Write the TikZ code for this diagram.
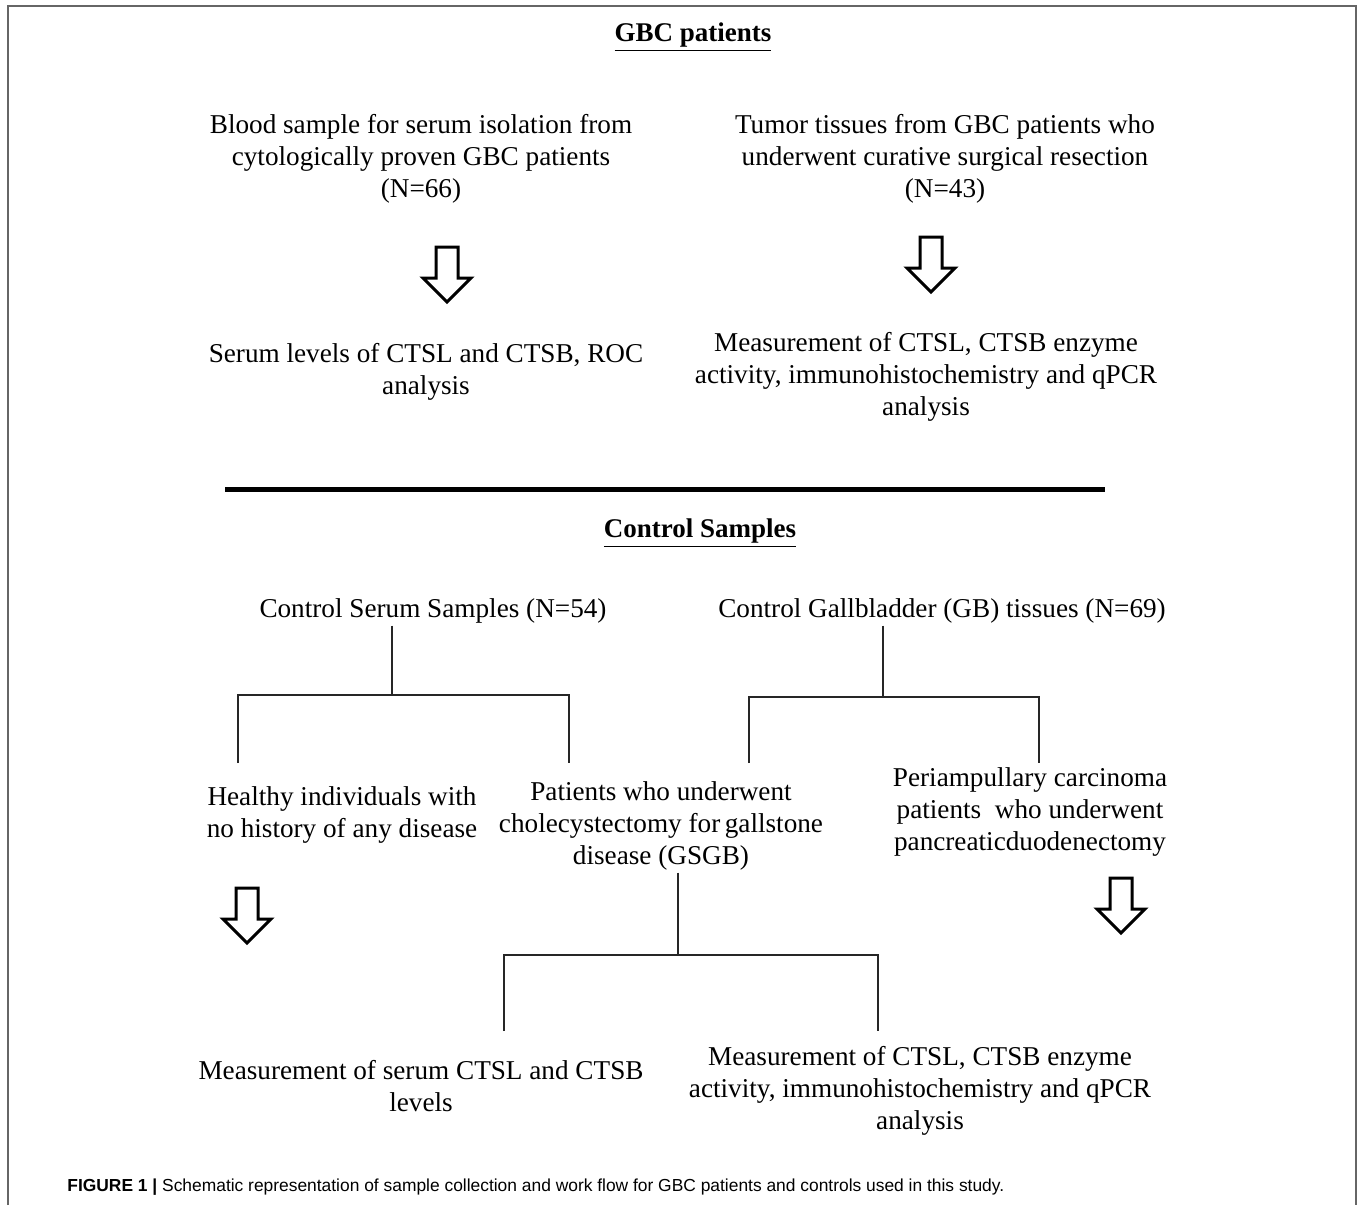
\documentclass[tikz,border=0pt]{standalone}
\usepackage{fontspec}
\setmainfont{Liberation Serif}
\setsansfont{Liberation Sans}
\usetikzlibrary{positioning,calc}

\tikzset{
  txt/.style={align=center, font=\fontsize{13.6}{16}\selectfont, inner sep=1pt},
  head/.style={font=\fontsize{13.5}{16}\selectfont\bfseries, inner sep=1pt},
  link/.style={draw=black!85, line width=0.65pt},
  blockarr/.style={draw=black, line width=1.5pt, line join=miter},
}
% hollow down arrow: top centre at (#1,#2), lengths in px
\newcommand{\hollowarrow}[2]{%
  \draw[blockarr] (#1-11,#2) -- (#1+11,#2) -- (#1+11,#2+31) -- (#1+24,#2+31)
    -- (#1,#2+55) -- (#1-24,#2+31) -- (#1-11,#2+31) -- cycle;}

\begin{document}
\begin{tikzpicture}[x=0.5pt, y=-0.5pt]
  \useasboundingbox (0,0) rectangle (1358,1205);
  % frame
  \draw[black!60, line width=0.8pt] (8,1205) -- (8,6) -- (1356,6) -- (1356,1205);

  % GBC patients
  \node[head] (gbc) at (693,37) {\underline{GBC patients}};
  \node[txt] (blood) at (421,159) {Blood sample for serum isolation from\\cytologically proven GBC patients\\(N=66)};
  \node[txt] (tumor) at (945,159) {Tumor tissues from GBC patients who\\underwent curative surgical resection\\(N=43)};
  \hollowarrow{447}{247}
  \hollowarrow{931}{237}
  \node[txt] (serum) at (426,372) {Serum levels of CTSL and CTSB, ROC\\analysis};
  \node[txt] (enzA) at (926,377) {Measurement of CTSL, CTSB enzyme\\activity, immunohistochemistry and qPCR\\analysis};

  \draw[line width=2.5pt] (225,489) -- (1105,489);

  % Control samples
  \node[head] (ctl) at (700,533) {\underline{Control Samples}};
  \node[txt] (ctlserum) at (433,611) {Control Serum Samples (N=54)};
  \node[txt] (ctlgb) at (942,611) {Control Gallbladder (GB) tissues (N=69)};

  \coordinate (sj) at (392,695);
  \coordinate (sl) at (238,763);
  \coordinate (sr) at (569,763);
  \draw[link] (sj |- ctlserum.south) -- (sj);
  \draw[link] (sl) -- (sl |- sj) -- (sr |- sj) -- (sr);

  \coordinate (gj) at (883,697);
  \coordinate (gl) at (749,763);
  \coordinate (gr) at (1039,763);
  \draw[link] (gj |- ctlgb.south) -- (gj);
  \draw[link] (gl) -- (gl |- gj) -- (gr |- gj) -- (gr);

  \node[txt] (healthy) at (342,815) {Healthy individuals with\\no history of any disease};
  \node[txt] (gsgb) at (661,826) {Patients who underwent\\cholecystectomy for\,gallstone\\disease (GSGB)};
  \node[txt] (peri) at (1030,812) {Periampullary carcinoma\\patients\ \ who underwent\\pancreaticduodenectomy};

  \hollowarrow{247}{888}
  \hollowarrow{1121}{878}

  \coordinate (pj) at (678,955);
  \coordinate (pl) at (504,1031);
  \coordinate (pr) at (878,1031);
  \draw[link] (pj |- gsgb.south) -- (pj);
  \draw[link] (pl) -- (pl |- pj) -- (pr |- pj) -- (pr);

  \node[txt] (serumlev) at (421,1086) {Measurement of serum CTSL and CTSB\\levels};
  \node[txt] (enzB) at (920,1091) {Measurement of CTSL, CTSB enzyme\\activity, immunohistochemistry and qPCR\\analysis};

  % caption
  \node[anchor=west, inner sep=0pt, font=\sffamily\fontsize{8.7}{10}\selectfont] (cap) at (67,1187)
    {\textbf{FIGURE 1 |} Schematic representation of sample collection and work flow for GBC patients and controls used in this study.};
\end{tikzpicture}
\end{document}
